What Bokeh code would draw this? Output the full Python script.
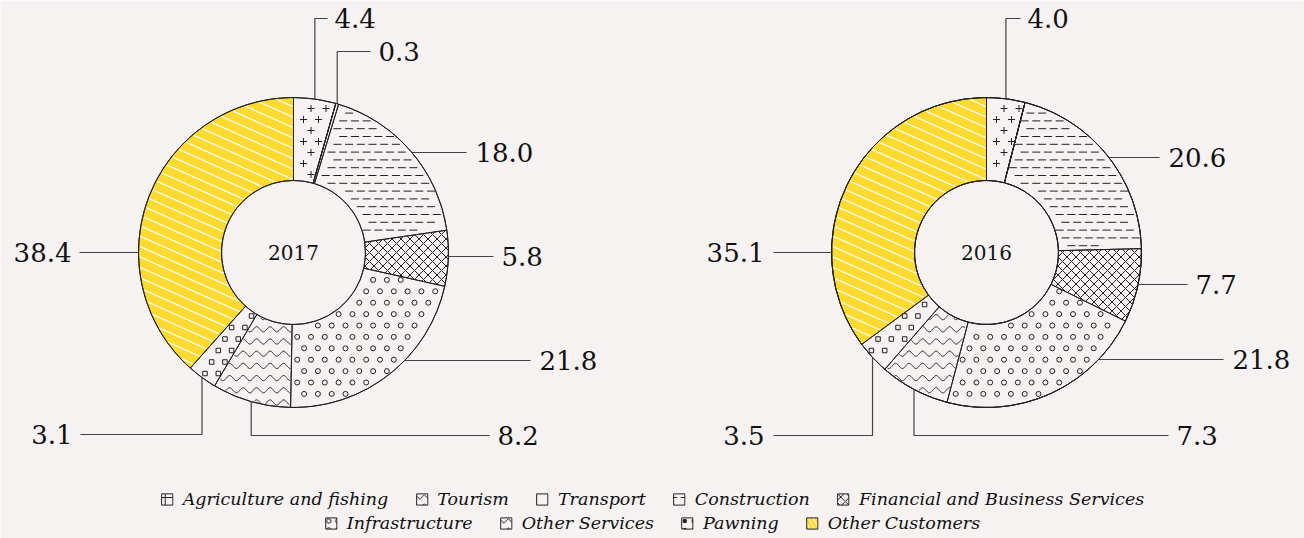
import math
from bokeh.plotting import figure
from bokeh.models import Range1d, ColumnDataSource, Legend, LegendItem
from bokeh.embed import file_html
from bokeh.resources import INLINE
from bokeh.core.properties import value

# ---------------- data ----------------
categories = ["Agriculture and fishing", "Tourism", "Transport", "Construction",
              "Financial and Business Services", "Infrastructure", "Other Services",
              "Pawning", "Other Customers"]
years = ["2017", "2016"]
values_2017 = [4.4, 0.0, 0.3, 18.0, 5.8, 21.8, 8.2, 3.1, 38.4]
values_2016 = [4.0, 0.0, 0.0, 20.6, 7.7, 21.8, 7.3, 3.5, 35.1]
series = [values_2017, values_2016]

# ---------------- styles ----------------
BG = "#f5f2f1"
YELLOW = "#fdda30"
INK = "#222222"
FONT = "DejaVu Serif"
# pattern kinds drawn inside each slice
patterns = ["cross", "none", "none", "dash", "grid", "ring", "wave", "square", "stripes"]
# hatch used only for the small legend swatches
legend_hatch = ["+", "v", " ", '"', "x", "o", "v", ".", "\\"]

# ---------------- layout (screen px, y downwards) ----------------
W, H = 1304, 538
centers = [(293, 252), (986, 252)]
R_OUT, R_IN = 155, 72
label_layout = [
    {0: ("v", 18, 327, 334, "left"), 2: ("v", 51, 370, 378, "left"),
     3: ("h", 152, 466, 475, "left"), 4: ("h", 256, 493, 501, "left"),
     5: ("h", 360, 530, 539, "left"), 6: ("v", 435, 489, 497, "left"),
     7: ("v", 434, 80, 72, "right"), 8: ("h", 252, 79, 71, "right")},
    {0: ("v", 18, 1020, 1027, "left"),
     3: ("h", 157, 1159, 1168, "left"), 4: ("h", 284, 1187, 1195, "left"),
     5: ("h", 359, 1223, 1232, "left"), 6: ("v", 435, 1168, 1176, "left"),
     7: ("v", 435, 773, 764, "right"), 8: ("h", 252, 773, 764, "right")},
]


def Y(sy):
    return H - sy


p = figure(width=W, height=H, x_range=Range1d(0, W), y_range=Range1d(0, H),
           output_backend="svg", toolbar_location=None, min_border=0,
           background_fill_color=BG, border_fill_color=BG, outline_line_color=None)
p.axis.visible = False
p.grid.visible = False


def slice_bounds(vals, ci):
    cum = sum(vals[:ci]) / 100.0
    return 2 * math.pi * cum, 2 * math.pi * (cum + vals[ci] / 100.0)


def inside(cx, cy, x, y, a0, a1, m):
    dx, dy = x - cx, y - cy
    r = math.hypot(dx, dy)
    if r < R_IN + m or r > R_OUT - m:
        return False
    th = math.atan2(dx, -dy) % (2 * math.pi)
    am = m / r
    return a0 + am <= th <= a1 - am


def grid_points(cx, cy, a0, a1, sx, sy, m):
    pts = []
    j = 0
    y = cy - R_OUT
    while y <= cy + R_OUT:
        off = (sx / 2.0) if j % 2 else 0.0
        x = cx - R_OUT + off
        while x <= cx + R_OUT:
            if inside(cx, cy, x, y, a0, a1, m):
                pts.append((x, y))
            x += sx
        y += sy
        j += 1
    return pts


def curve_runs(samples, cx, cy, a0, a1, m):
    runs, cur = [], []
    for (x, y) in samples:
        if inside(cx, cy, x, y, a0, a1, m):
            cur.append((x, y))
        else:
            if len(cur) > 1:
                runs.append(cur)
            cur = []
    if len(cur) > 1:
        runs.append(cur)
    return runs


# ---------------- slices ----------------
wedge_renderers = []
for ci, cat in enumerate(categories):
    xs, ys, starts, ends = [], [], [], []
    for yi, vals in enumerate(series):
        a0, a1 = slice_bounds(vals, ci)
        cx, cy = centers[yi]
        xs.append(cx); ys.append(Y(cy))
        starts.append(math.pi / 2 - a0)
        ends.append(math.pi / 2 - a1)
    src = ColumnDataSource(dict(x=xs, y=ys, s=starts, e=ends))
    fill = YELLOW if patterns[ci] == "stripes" else BG
    hk = {}
    if patterns[ci] == "grid":
        hk = dict(hatch_pattern="x", hatch_scale=9, hatch_color=INK, hatch_weight=1)
    r = p.annular_wedge(x="x", y="y", inner_radius=R_IN, outer_radius=R_OUT,
                        start_angle="s", end_angle="e", direction="clock", source=src,
                        fill_color=fill, line_color=None, **hk)
    wedge_renderers.append(r)

# ---------------- in-slice patterns ----------------
marks = {"cross": ([], []), "dash": ([], []), "ring": ([], []), "square": ([], [])}
wave_xs, wave_ys, stripe_xs, stripe_ys = [], [], [], []
for yi, vals in enumerate(series):
    cx, cy = centers[yi]
    for ci in range(len(categories)):
        if vals[ci] <= 0:
            continue
        a0, a1 = slice_bounds(vals, ci)
        kind = patterns[ci]
        if kind == "cross":
            pts = grid_points(cx, cy, a0, a1, 15, 11, 3)
        elif kind == "dash":
            pts = grid_points(cx, cy, a0, a1, 11.7, 7.8, 4)
        elif kind == "ring":
            pts = grid_points(cx, cy, a0, a1, 13.8, 11.4, 2.5)
        elif kind == "square":
            pts = grid_points(cx, cy, a0, a1, 13.3, 11.5, 2.5)
        elif kind == "wave":
            yrow = cy - R_OUT
            while yrow <= cy + R_OUT:
                samples = [(cx - R_OUT + k * 0.5,
                            yrow + 2.6 * math.sin(2 * math.pi * (k * 0.5) / 13.5))
                           for k in range(int(4 * R_OUT) + 1)]
                for run in curve_runs(samples, cx, cy, a0, a1, 0.8):
                    wave_xs.append([q[0] for q in run]); wave_ys.append([Y(q[1]) for q in run])
                yrow += 12.2
            continue
        elif kind == "stripes":
            ang = math.radians(24)
            dxu, dyu = math.cos(ang), math.sin(ang)      # along line (down-right)
            nx, ny = -dyu, dxu                            # normal
            k = -30
            while k <= 30:
                bx, by = cx + nx * 9.5 * k, cy + ny * 9.5 * k
                samples = [(bx + dxu * t * 0.7, by + dyu * t * 0.7)
                           for t in range(-320, 321)]
                for run in curve_runs(samples, cx, cy, a0, a1, 0.8):
                    stripe_xs.append([q[0] for q in run]); stripe_ys.append([Y(q[1]) for q in run])
                k += 1
            continue
        else:
            continue
        for (x, y) in pts:
            marks[kind][0].append(x); marks[kind][1].append(Y(y))

p.scatter(marks["cross"][0], marks["cross"][1], marker="cross", size=7,
          line_color=INK, line_width=1)
p.scatter(marks["dash"][0], marks["dash"][1], marker="dash", size=8,
          line_color=INK, line_width=1)
p.scatter(marks["ring"][0], marks["ring"][1], marker="circle", size=5,
          fill_color=None, line_color=INK, line_width=1)
p.scatter(marks["square"][0], marks["square"][1], marker="square", size=4.5,
          fill_color=None, line_color=INK, line_width=1)
p.multi_line(wave_xs, wave_ys, line_color=INK, line_width=1)
p.multi_line(stripe_xs, stripe_ys, line_color="white", line_width=1.2)

# slice outlines on top
for ci in range(len(categories)):
    r = wedge_renderers[ci]
    p.annular_wedge(x="x", y="y", inner_radius=R_IN, outer_radius=R_OUT,
                    start_angle="s", end_angle="e", direction="clock",
                    source=r.data_source, fill_color=None, line_color=INK, line_width=1)

# ---------------- leader lines and value labels ----------------
lx, ly, tx, ty, tt, ta = [], [], [], [], [], []
for yi, vals in enumerate(series):
    cx, cy = centers[yi]
    for ci, v in enumerate(vals):
        if ci not in label_layout[yi]:
            continue
        kind, lab_y, end_x, text_x, align = label_layout[yi][ci]
        a0, a1 = slice_bounds(vals, ci)
        mid = (a0 + a1) / 2
        if kind == "v":
            ax = cx + R_OUT * math.sin(mid)
            ay = cy - R_OUT * math.cos(mid)
            lx.append([ax, ax, end_x]); ly.append([Y(ay), Y(lab_y), Y(lab_y)])
        else:
            dy = lab_y - cy
            dx = math.sqrt(max(R_OUT ** 2 - dy ** 2, 0))
            sx = cx + dx if end_x > cx else cx - dx
            lx.append([sx, end_x]); ly.append([Y(lab_y), Y(lab_y)])
        tx.append(text_x); ty.append(Y(lab_y)); tt.append(f"{v:.1f}"); ta.append(align)

p.multi_line(xs=lx, ys=ly, line_color="#444444", line_width=1.2)
p.text(x=tx, y=ty, text=tt, text_align=ta, text_baseline="middle",
       text_font=value(FONT), text_font_size="26px", text_color="#111111")

p.text(x=[c[0] for c in centers], y=[Y(c[1]) for c in centers], text=years,
       text_align="center", text_baseline="middle", text_font=value(FONT),
       text_font_size="20px", text_color="#111111")

# ---------------- legend (swatch renderers kept off-screen) ----------------
swatches = []
for ci in range(len(categories)):
    fill = YELLOW if patterns[ci] == "stripes" else BG
    hc = "white" if patterns[ci] == "stripes" else INK
    sw = p.rect(x=[-1000], y=[-1000], width=10, height=10, fill_color=fill,
                line_color=INK, line_width=1, hatch_pattern=legend_hatch[ci],
                hatch_color=hc, hatch_scale=9, hatch_weight=1)
    swatches.append(sw)


def make_legend(idx, margin):
    return Legend(items=[LegendItem(label=categories[i], renderers=[swatches[i]]) for i in idx],
                  location="bottom_center", orientation="horizontal",
                  background_fill_alpha=0, border_line_alpha=0, padding=0, margin=margin,
                  spacing=26, glyph_width=14, glyph_height=14, label_standoff=9,
                  label_text_font=FONT, label_text_font_style="italic",
                  label_text_font_size="17.5px", label_text_color="#111111",
                  label_height=16)


p.add_layout(make_legend([0, 1, 2, 3, 4], 29))
p.add_layout(make_legend([5, 6, 7, 8], 5))

open("out.html", "w").write(file_html(p, INLINE))
